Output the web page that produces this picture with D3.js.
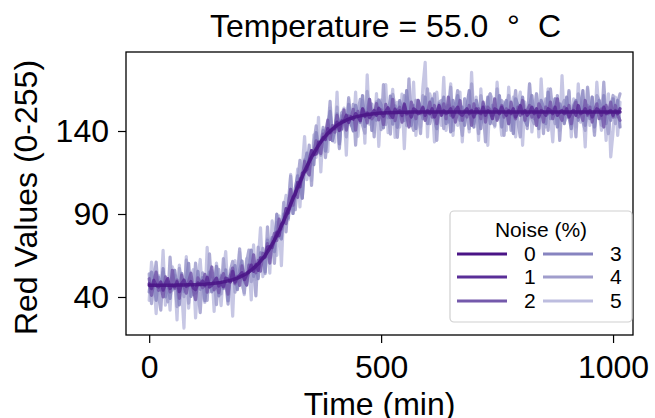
<!DOCTYPE html>
<html>
<head>
<meta charset="utf-8">
<script src="https://cdn.jsdelivr.net/npm/d3@7"></script>
<style>
  body { margin: 0; background: #fff; }
  text { font-family: "Liberation Sans", Arial, sans-serif; fill: #000; }
</style>
</head>
<body>
<svg id="chart" width="655" height="418"></svg>
<script>
// sample times (min), one reading every 5 min
var times = d3.range(0, 1016, 5);

// noiseless red value
var base = [
  47.0, 47.0, 47.0, 47.0, 47.0, 47.1, 47.1, 47.1, 47.1, 47.1,
  47.1, 47.1, 47.2, 47.2, 47.2, 47.2, 47.3, 47.3, 47.3, 47.4,
  47.4, 47.5, 47.6, 47.6, 47.7, 47.9, 48.0, 48.1, 48.3, 48.4,
  48.6, 48.8, 49.1, 49.4, 49.7, 50.0, 50.4, 50.9, 51.4, 52.0,
  52.7, 53.4, 54.2, 55.2, 56.2, 57.4, 58.6, 60.0, 61.6, 63.3,
  65.1, 67.2, 69.4, 71.8, 74.3, 77.0, 79.9, 82.9, 86.0, 89.2,
  92.5, 95.9, 99.3, 102.6, 106.0, 109.3, 112.5, 115.7, 118.7, 121.5,
  124.2, 126.7, 129.1, 131.3, 133.4, 135.2, 136.9, 138.5, 139.9, 141.2,
  142.3, 143.4, 144.3, 145.1, 145.8, 146.5, 147.1, 147.6, 148.1, 148.5,
  148.8, 149.1, 149.4, 149.7, 149.9, 150.1, 150.3, 150.4, 150.5, 150.7,
  150.8, 150.9, 151.0, 151.0, 151.1, 151.1, 151.2, 151.2, 151.3, 151.3,
  151.3, 151.3, 151.4,
  151.4, 151.4, 151.4, 151.4, 151.4, 151.4, 151.4, 151.4, 151.4, 151.4,
  151.4, 151.4, 151.4, 151.4, 151.4, 151.4, 151.4, 151.4, 151.4, 151.4,
  151.4, 151.4, 151.4, 151.4, 151.4, 151.4, 151.4, 151.4, 151.4, 151.4,
  151.4, 151.4, 151.4, 151.4, 151.4, 151.4, 151.4, 151.4, 151.4, 151.4,
  151.4, 151.4, 151.4, 151.4, 151.4, 151.4, 151.4, 151.4, 151.4, 151.4,
  151.4, 151.4, 151.4, 151.4, 151.4, 151.4, 151.4, 151.4, 151.4, 151.4,
  151.4, 151.4, 151.4, 151.4, 151.4, 151.4, 151.4, 151.4, 151.4, 151.4,
  151.4, 151.4, 151.4, 151.4, 151.4, 151.4, 151.4, 151.4, 151.4, 151.4,
  151.4, 151.4, 151.4, 151.4, 151.4, 151.4, 151.4, 151.4, 151.4, 151.4,
  151.4
];

// deviation from the clean curve for each noise level (estimated)
var noise0 = [0];
var noise1 = [
  1,-2,3,0,-1,2,-3,1,4,-2,0,-1,2,-4,1,3,-1,0,2,-2,
  -3,1,0,2,-1,4,-2,-1,1,3,-2,0,-3,2,1,-1,5,-2,0,1,
  2,-3,-1,0,3,-2,1,-4,2,0,-1,3,1,-2,0,2,-3,1,-1,4,
  -2,0,1,-1,3,-3,2,0,-2,1,4,-1,-3,2,0,1,-2,3,-1,0,
  -1,2,-4,1,0,3,-2,1,-1,2,0,-3,4,-1,1,-2,0,2,-1,3,
  0,-2,1,3,-1,-3,2,0,1,-2,5,-1,0,-3,2,1,-1,0,3,-2,
  1,-1,2,-3,0,4,-2,1,-1,0,2,-3,1,3,-1,-2,0,2,-1,1,
  -3,2,0,-1,3,-2,1,0,-4,2,1,-1,3,0,-2,1,-1,2,-3,0,
  4,-1,1,-2,0,3,-1,2,-3,1,0,-2,2,1,-1,3,-2,0,1,-1,
  2,-3,0,1,-2,4,-1,0,2,-1,1,-3,0,2,1,-2,3,-1,0,1,
  -2,1,-1,2
];
var noise2 = [
  4,-6,2,8,-3,0,-7,5,1,-4,9,-2,3,-8,6,-1,-5,2,7,-3,
  -9,4,1,-2,6,-5,3,10,-4,0,-6,2,5,-1,-8,3,7,-3,1,-5,
  6,-2,-7,4,0,8,-4,2,-6,3,-1,5,-9,1,4,-3,7,-2,0,-5,
  3,9,-4,1,-6,2,-1,6,-3,-8,4,0,5,-2,-7,3,1,8,-5,2,
  -3,6,-1,-4,7,-6,2,0,5,-8,3,-2,4,1,-5,9,-3,-1,6,-4,
  2,-7,5,0,-3,8,-5,1,3,-6,4,-2,-9,6,1,-4,7,-1,2,-5,
  0,6,-3,4,-7,2,-1,5,-4,9,-2,3,-6,0,7,-5,1,-3,4,-8,
  5,-1,2,-4,6,-6,3,1,-2,8,-5,0,4,-3,2,-7,6,-1,-4,3,
  -2,7,-5,1,4,-3,0,-8,5,2,-6,3,-1,6,-4,1,8,-2,-5,3,
  -1,4,-7,2,6,-3,0,-5,7,-2,3,-6,1,5,-4,2,-9,4,-1,6,
  -3,4,-2,-5
];
var noise3 = [
  -4,8,1,-9,5,-3,10,-7,1,-8,4,9,-1,-12,7,-4,3,13,-7,0,
  -5,8,-3,4,-10,1,7,-5,-1,10,-8,4,-4,7,-12,3,1,8,-7,4,
  9,-4,-7,1,12,-5,0,-9,5,3,-10,7,-1,4,-7,13,-3,-8,4,1,
  -5,9,-9,3,7,-1,-13,4,8,-4,1,-7,10,-4,0,5,-9,4,12,-7,
  -1,7,-12,4,1,-5,9,-3,-8,7,0,-4,12,-7,3,9,-10,1,-4,8,
  5,-9,1,-3,10,-7,4,-9,7,1,-5,13,-1,-8,4,-10,7,3,-4,9,
  -7,1,8,-4,-10,5,0,9,-7,4,-12,7,-1,10,-5,3,-8,4,13,-4,
  -9,7,1,-10,5,-3,9,-7,4,0,-4,10,-9,3,7,-7,1,-13,8,4,
  -1,9,-5,-8,4,10,-4,1,-10,7,3,-7,12,-4,-1,8,-9,5,1,-7,
  9,-3,-10,4,7,-5,0,13,-8,4,-4,9,-9,1,7,-4,10,-7,1,-5,
  8,-3,7,-9
];
var noise4 = [
  7,-11,3,14,-6,-15,8,1,-10,17,-3,6,-13,10,0,-7,15,-11,4,-6,
  13,-3,-17,7,1,-10,18,-4,3,-13,8,-7,14,-1,-14,6,11,-8,0,17,
  -4,-11,7,13,-7,1,-18,10,-3,6,-11,15,-6,3,-14,8,1,-7,11,-10,
  4,17,-6,-10,3,13,-13,7,-1,10,-17,6,14,-3,-8,7,-13,1,18,-7,
  -3,11,-15,6,0,-10,13,-4,8,-17,3,10,-6,-11,14,-1,6,-14,7,3,
  -10,17,-7,1,-13,11,4,-15,6,-3,10,-8,20,-6,-11,7,1,-13,10,-3,
  14,-7,-1,11,-17,6,7,-10,3,-6,15,-11,3,13,-4,-14,8,0,-10,17,
  -7,4,-13,10,1,-18,6,11,-6,-8,14,-3,7,-14,3,10,-11,1,13,-6,
  -15,7,3,-10,17,-4,-7,11,-1,6,-13,8,-11,14,0,-7,10,-17,4,7,
  -3,13,-8,1,-15,11,6,-6,-11,15,-1,3,-14,10,7,-8,18,-4,-13,3,
  10,-7,6,11
];
var noise5 = [
  -9,14,3,-17,6,-5,21,-12,2,-15,11,5,-21,12,-3,-26,17,-14,5,9,
  -20,3,15,-6,-11,22,-5,8,-17,12,0,-14,6,18,-9,3,-22,11,-6,15,
  -2,-12,9,5,-18,14,-8,2,20,-11,-3,8,-15,14,3,-12,9,-24,6,12,
  -6,18,-9,-3,11,-15,5,21,-8,2,-14,11,-5,17,-18,6,0,-11,14,-5,
  -9,20,-14,5,8,-21,12,-2,-8,15,-12,3,9,-17,24,-6,3,-11,12,-20,
  8,-3,17,-12,0,14,-15,6,-9,11,-22,9,5,-6,18,-14,2,-9,15,30,
  -15,11,6,-18,12,-3,-8,21,-11,3,17,-14,5,-8,12,-18,8,0,-12,24,
  -5,9,-17,14,-6,3,-20,11,8,-9,18,0,-14,6,-11,15,-3,9,-15,5,
  12,-20,6,-8,17,-12,2,11,-15,20,-5,-9,14,-2,-18,8,5,-11,22,-6,
  -3,12,-15,8,-9,17,-6,3,-21,14,-8,9,-12,18,0,-11,6,-17,11,-27,
  -12,9,-14,6
];

var noiseLevels = ["0", "1", "2", "3", "4", "5"];
var noiseArrays = [noise0, noise1, noise2, noise3, noise4, noise5];
var colors = ["#4a1486", "#5a2e98", "#7459ab", "#8784c0", "#a09dcc", "#bdbddf"];

var xTicks = [0, 500, 1000];
var yTicks = [40, 90, 140];

var svg = d3.select("#chart");
var mLeft = 126, mRight = 633, mTop = 52, mBottom = 335;

var x = d3.scaleLinear().domain([-50, 1043]).range([mLeft, mRight]);
var y = d3.scaleLinear().domain([17.1, 187.6]).range([mBottom, mTop]);

// series table built from the arrays
var series = noiseLevels.map(function (lvl, k) {
    var dev = noiseArrays[k];
    var pts = times.map(function (t, i) {
        return { t: t, v: base[i] + (k === 0 ? 0 : dev[i]) };
    });
    return { level: lvl, color: colors[k], points: pts };
});

var line = d3.line()
    .x(function (d) { return x(d.t); })
    .y(function (d) { return y(d.v); });

svg.append("defs").append("clipPath").attr("id", "clip")
    .append("rect")
    .attr("x", mLeft).attr("y", mTop)
    .attr("width", mRight - mLeft).attr("height", mBottom - mTop);

var plot = svg.append("g").attr("clip-path", "url(#clip)");

// lightest (noisiest) drawn first so the clean curve stays on top
plot.selectAll("path")
    .data(series.slice().reverse())
    .enter()
    .append("path")
    .attr("d", function (d) { return line(d.points); })
    .attr("fill", "none")
    .attr("stroke", function (d) { return d.color; })
    .attr("stroke-width", function (d) { return d.level === "0" ? 3.5 : 3.2; })
    .attr("stroke-linejoin", "round")
    .attr("stroke-linecap", "round")
    .attr("stroke-opacity", 0.85);

// axes
var xAxis = svg.append("g")
    .attr("transform", "translate(0," + mBottom + ")")
    .call(d3.axisBottom(x).tickValues(xTicks).tickFormat(d3.format("d")).tickSize(8).tickPadding(12));
var yAxis = svg.append("g")
    .attr("transform", "translate(" + mLeft + ",0)")
    .call(d3.axisLeft(y).tickValues(yTicks).tickFormat(d3.format("d")).tickSize(8).tickPadding(9));

[xAxis, yAxis].forEach(function (g) {
    g.select(".domain").remove();
    g.selectAll("line").attr("stroke", "#000").attr("stroke-width", 1.2);
    g.selectAll("text")
        .style("font-family", '"Liberation Sans", Arial, sans-serif')
        .style("font-size", "32px")
        .attr("fill", "#000");
});

svg.append("rect")
    .attr("x", mLeft).attr("y", mTop)
    .attr("width", mRight - mLeft).attr("height", mBottom - mTop)
    .attr("fill", "none")
    .attr("stroke", "#000")
    .attr("stroke-width", 1.3);

// title: degree sign set apart as in the mathtext original
var title = svg.append("text")
    .attr("x", 210)
    .attr("y", 37)
    .style("font-size", "32px");
title.append("tspan").text("Temperature = 55.0");
title.append("tspan").attr("x", 507).text("\u00b0");
title.append("tspan").attr("x", 538).text("C");

svg.append("text")
    .attr("x", (mLeft + mRight) / 2)
    .attr("y", 415)
    .attr("text-anchor", "middle")
    .style("font-size", "32px")
    .text("Time (min)");

svg.append("text")
    .attr("transform", "translate(37," + ((mTop + mBottom) / 2 + 4) + ") rotate(-90)")
    .attr("text-anchor", "middle")
    .style("font-size", "32px")
    .text("Red Values (0-255)");

// legend
var lg = svg.append("g");
lg.append("rect")
    .attr("x", 450).attr("y", 211)
    .attr("width", 182).attr("height", 111)
    .attr("rx", 4)
    .attr("fill", "#fff").attr("fill-opacity", 0.8)
    .attr("stroke", "#d0d0d0").attr("stroke-width", 1.2);

lg.append("text")
    .attr("x", 541).attr("y", 237)
    .attr("text-anchor", "middle")
    .style("font-size", "21px")
    .text("Noise (%)");

var rowY = [254, 277, 301];
var item = lg.selectAll("g.item")
    .data(series)
    .enter()
    .append("g")
    .attr("class", "item")
    .attr("transform", function (d, i) {
        var col = Math.floor(i / 3);
        return "translate(" + (col === 0 ? 457 : 543) + "," + rowY[i % 3] + ")";
    });

item.append("line")
    .attr("x1", 0).attr("x2", 50)
    .attr("stroke", function (d) { return d.color; })
    .attr("stroke-width", 3);

item.append("text")
    .attr("x", 67)
    .attr("y", 7)
    .style("font-size", "21px")
    .text(function (d) { return d.level; });
</script>
</body>
</html>
